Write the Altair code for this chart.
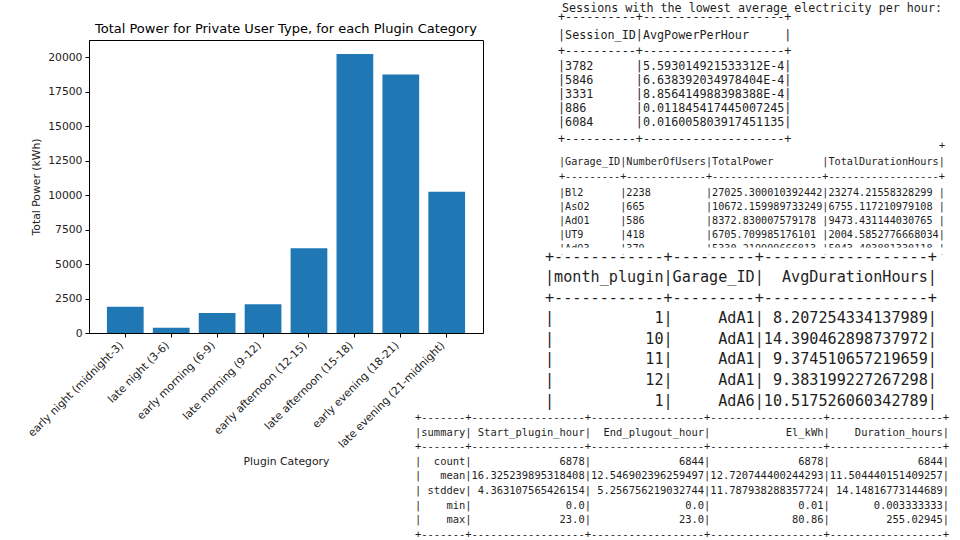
import altair as alt
import pandas as pd

# ---------------- data: bar chart ----------------
chart_title = "Total Power for Private User Type, for each Plugin Category"
categories = [
    "early night (midnight-3)", "late night (3-6)", "early morning (6-9)",
    "late morning (9-12)", "early afternoon (12-15)", "late afternoon (15-18)",
    "early evening (18-21)", "late evening (21-midnight)",
]
total_power = [1900, 380, 1450, 2080, 6150, 20250, 18750, 10250]
y_ticks = [0, 2500, 5000, 7500, 10000, 12500, 15000, 17500, 20000]

# ---------------- data: table 1 ----------------
t1_heading = "Sessions with the lowest average electricity per hour:"
t1_cols = ["Session_ID", "AvgPowerPerHour"]
t1_session = ["3782", "5846", "3331", "886", "6084"]
t1_avg = ["5.593014921533312E-4", "6.638392034978404E-4", "8.856414988398388E-4",
          "0.011845417445007245", "0.016005803917451135"]

# ---------------- data: table 2 ----------------
t2_cols = ["Garage_ID", "NumberOfUsers", "TotalPower", "TotalDurationHours"]
t2_garage = ["Bl2", "AsO2", "AdO1", "UT9", "AdO3"]
t2_users = ["2238", "665", "586", "418", "379"]
t2_power = ["27025.300010392442", "10672.159989733249", "8372.830007579178",
            "6705.709985176101", "5330.219999666813"]
t2_hours = ["23274.21558328299", "6755.117210979108", "9473.431144030765",
            "2004.5852776668034", "5043.403881330118"]

# ---------------- data: table 3 ----------------
t3_cols = ["month_plugin", "Garage_ID", "AvgDurationHours"]
t3_month = ["1", "10", "11", "12", "1"]
t3_garage = ["AdA1", "AdA1", "AdA1", "AdA1", "AdA6"]
t3_avg = ["8.207254334137989", "14.390462898737972", "9.374510657219659",
          "9.383199227267298", "10.517526060342789"]

# ---------------- data: table 4 ----------------
t4_cols = ["summary", "Start_plugin_hour", "End_plugout_hour", "El_kWh", "Duration_hours"]
t4_stat = ["count", "mean", "stddev", "min", "max"]
t4_start = ["6878", "16.325239895318408", "4.363107565426154", "0.0", "23.0"]
t4_end = ["6844", "12.546902396259497", "5.256756219032744", "0.0", "23.0"]
t4_el = ["6878", "12.720744400244293", "11.787938288357724", "0.01", "80.86"]
t4_dur = ["6844", "11.504440151409257", "14.14816773144689", "0.003333333", "255.02945"]


def show(cols, values, left):
    """Format like Spark's DataFrame.show()."""
    widths = [max(3, len(c), *(len(v) for v in vals)) for c, vals in zip(cols, values)]
    sep = "+" + "+".join("-" * w for w in widths) + "+"

    def fmt(cells):
        return "|" + "|".join((c.ljust(w) if left else c.rjust(w))
                              for c, w in zip(cells, widths)) + "|"

    return [sep, fmt(cols), sep] + [fmt(r) for r in zip(*values)] + [sep]


NB = "\u00a0"
tab1 = show(t1_cols, [t1_session, t1_avg], True)
tab2 = show(t2_cols, [t2_garage, t2_users, t2_power, t2_hours], True)
tab3 = show(t3_cols, [t3_month, t3_garage, t3_avg], False)
tab4 = show(t4_cols, [t4_stat, t4_start, t4_end, t4_el, t4_dur], False)

# ---------------- layout ----------------
PL, PT, PW, PH = 89, 40, 394, 293
W, H = 960, 540
MONO = "DejaVu Sans Mono"
INK = "#1e1e1e"

xs = alt.Scale(domain=[0, W], range=[-PL, W - PL])
ys = alt.Scale(domain=[0, H], range=[-PT, H - PT])


def text_layer(lines, x0, ys_list, size, font=MONO, align="left", color=INK):
    df = pd.DataFrame({
        "t": [l.replace(" ", NB) for l in lines],
        "px": [x0] * len(lines),
        "py": ys_list,
    })
    return alt.Chart(df).mark_text(
        font=font, fontSize=size, align=align, baseline="middle", color=color
    ).encode(
        x=alt.X("px:Q", scale=xs, axis=None),
        y=alt.Y("py:Q", scale=ys, axis=None),
        text="t:N",
    )


# chart title
lt = text_layer([chart_title], PL + PW / 2, [29], 13, font="DejaVu Sans",
                align="center", color="#000")

# table 1 (with heading)
l1 = text_layer([t1_heading], 562, [8], 11.7)
l1b = text_layer(tab1, 558, [17, 35, 51, 66, 80, 94, 108, 122, 139], 11.75)

# table 2 (top border hidden except its last corner)
T2X, T2S = 559, 10.18
cw2 = T2S * 0.602
l2 = text_layer(tab2[1:8], T2X, [162, 177, 193, 207, 221, 235, 249], T2S)
l2c = text_layer([tab2[0][-1]], T2X + (len(tab2[0]) - 1) * cw2, [146], T2S)

mask_df = pd.DataFrame({"x1": [548], "x2": [W], "y1": [247.5], "y2": [254]})
mask = alt.Chart(mask_df).mark_rect(color="white").encode(
    x=alt.X("x1:Q", scale=xs, axis=None), x2="x2:Q",
    y=alt.Y("y1:Q", scale=ys, axis=None), y2="y2:Q",
)

# table 3 (bottom hidden under table 4)
l3 = text_layer(tab3[:8], 545, [257, 277, 298, 318, 339, 359, 380, 401], 15.15)

# table 4
l4 = text_layer(tab4, 415, [418, 432.6, 447.2, 461.8, 476.4, 491, 505.6, 520.2, 534.8], 10.45)

texts = alt.layer(lt, l1, l1b, l2, l2c, mask, l3, l4)

# ---------------- bar chart ----------------
bar_df = pd.DataFrame({"cat": categories, "power": total_power})
bars = alt.Chart(bar_df).mark_bar(color="#1f77b4").encode(
    x=alt.X(
        "cat:N", sort=None, title="Plugin Category",
        scale=alt.Scale(paddingInner=0.2, paddingOuter=0.39),
        axis=alt.Axis(labelAngle=-45, labelAlign="right", labelBaseline="bottom",
                      labelPadding=10, tickSize=4, titlePadding=6),
    ),
    y=alt.Y(
        "power:Q", title="Total Power (kWh)",
        scale=alt.Scale(domain=[0, 21262], nice=False, zero=True),
        axis=alt.Axis(values=y_ticks, format="d", tickSize=4, labelPadding=3,
                      titlePadding=6, grid=False),
    ),
)

chart = alt.layer(bars, texts).resolve_scale(
    x="independent", y="independent"
).properties(
    width=PW, height=PH,
    autosize=alt.AutoSizeParams(type="none"),
    padding={"left": PL, "top": PT, "right": W - PL - PW, "bottom": H - PT - PH},
).configure_view(
    stroke="#000", strokeWidth=1
).configure_axis(
    labelFont="DejaVu Sans", titleFont="DejaVu Sans", labelFontSize=10.8,
    titleFontSize=10.8, titleFontWeight="normal", labelColor="#222",
    titleColor="#222", domainColor="#000", tickColor="#000", grid=False,
)

chart.save("out.html", embed_options={"renderer": "svg", "actions": False})
